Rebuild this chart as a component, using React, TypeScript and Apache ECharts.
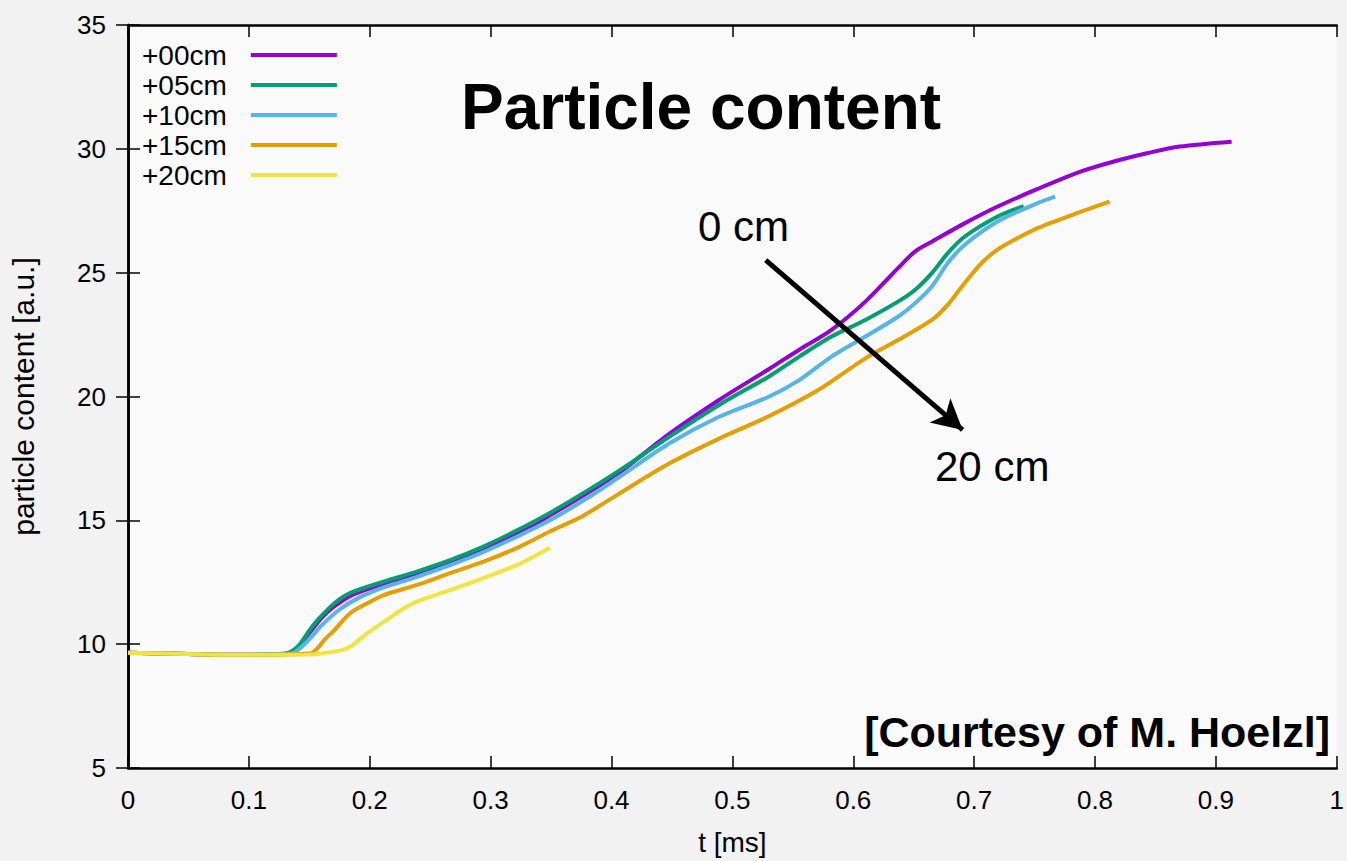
import React, { useEffect, useRef } from "react";
import * as echarts from "echarts";

const seriesNames = ["+00cm", "+05cm", "+10cm", "+15cm", "+20cm"];
const seriesColors = ["#9400D3", "#009E73", "#56B4E9", "#E69F00", "#F0E442"];

const p00: [number, number][] = [
  [0, 9.65], [0.05, 9.6], [0.1, 9.57], [0.13, 9.6], [0.14, 9.85], [0.15, 10.45], [0.16, 11.05],
  [0.17, 11.5], [0.184, 11.95], [0.2, 12.25], [0.212, 12.45], [0.239, 12.85], [0.267, 13.32],
  [0.294, 13.85], [0.322, 14.45], [0.349, 15.2], [0.38, 16.1], [0.407, 16.95], [0.448, 18.5],
  [0.489, 19.86], [0.53, 21.1], [0.555, 21.88], [0.582, 22.69], [0.61, 23.83], [0.637, 25.18],
  [0.651, 25.85], [0.665, 26.25], [0.692, 26.99], [0.719, 27.66], [0.752, 28.37], [0.788, 29.08],
  [0.815, 29.48], [0.843, 29.82], [0.87, 30.09], [0.913, 30.29],
];
const p05: [number, number][] = [
  [0, 9.65], [0.05, 9.6], [0.1, 9.57], [0.13, 9.62], [0.138, 9.8], [0.143, 10.05], [0.15, 10.55],
  [0.157, 10.98], [0.171, 11.66], [0.184, 12.07], [0.212, 12.53], [0.239, 12.93], [0.267, 13.4],
  [0.294, 13.94], [0.322, 14.6], [0.349, 15.3], [0.38, 16.2], [0.407, 17.03], [0.448, 18.38],
  [0.489, 19.66], [0.53, 20.8], [0.555, 21.6], [0.582, 22.42], [0.61, 23.09], [0.637, 23.83],
  [0.651, 24.3], [0.665, 24.98], [0.678, 25.78], [0.692, 26.45], [0.719, 27.26], [0.741, 27.69],
];
const p10: [number, number][] = [
  [0, 9.65], [0.05, 9.6], [0.1, 9.57], [0.135, 9.62], [0.145, 9.95], [0.16, 10.75], [0.175, 11.4],
  [0.19, 11.85], [0.212, 12.3], [0.239, 12.72], [0.267, 13.2], [0.294, 13.72], [0.322, 14.35],
  [0.349, 15.0], [0.38, 15.9], [0.407, 16.77], [0.448, 18.11], [0.489, 19.18], [0.53, 19.99],
  [0.555, 20.65], [0.582, 21.61], [0.61, 22.42], [0.637, 23.22], [0.651, 23.76], [0.665, 24.44],
  [0.678, 25.38], [0.692, 26.12], [0.719, 27.06], [0.752, 27.8], [0.767, 28.07],
];
const p15: [number, number][] = [
  [0, 9.65], [0.05, 9.6], [0.1, 9.57], [0.15, 9.62], [0.156, 9.8], [0.163, 10.2], [0.171, 10.58],
  [0.184, 11.26], [0.2, 11.7], [0.212, 11.99], [0.239, 12.39], [0.267, 12.88], [0.294, 13.33],
  [0.322, 13.89], [0.349, 14.55], [0.377, 15.2], [0.407, 16.1], [0.448, 17.3], [0.489, 18.3],
  [0.53, 19.2], [0.571, 20.26], [0.61, 21.54], [0.637, 22.28], [0.665, 23.09], [0.678, 23.7],
  [0.692, 24.57], [0.706, 25.38], [0.719, 25.92], [0.733, 26.32], [0.752, 26.79], [0.788, 27.45],
  [0.812, 27.87],
];
const p20: [number, number][] = [
  [0, 9.65], [0.05, 9.6], [0.1, 9.57], [0.15, 9.58], [0.176, 9.75], [0.184, 9.9], [0.198, 10.45],
  [0.212, 10.91], [0.226, 11.38], [0.239, 11.72], [0.267, 12.19], [0.294, 12.67], [0.322, 13.2],
  [0.349, 13.89],
];
const seriesData = [p00, p05, p10, p15, p20];

const arrowStart: [number, number] = [0.5276, 25.51];
const arrowEnd: [number, number] = [0.6905, 18.65];

const FONT = "'Liberation Sans', Arial, Helvetica, sans-serif";

export default function App() {
  const ref = useRef<HTMLDivElement>(null);
  useEffect(() => {
    if (!ref.current) return;
    const chart = echarts.init(ref.current, null, { renderer: "svg" });
    const axisLine = { show: true, lineStyle: { color: "#000", width: 2.5 } };
    const tick = { show: true, inside: true, length: 12, lineStyle: { color: "#000", width: 1.5 } };
    chart.setOption({
      animation: false,
      backgroundColor: "#f2f2f2",
      textStyle: { fontFamily: FONT },
      title: {
        text: "Particle content",
        left: 696,
        top: 70,
        textAlign: "center",
        textStyle: { fontSize: 64, fontWeight: "bold", color: "#000", fontFamily: FONT },
      },
      legend: {
        orient: "vertical",
        left: 137,
        top: 36,
        align: "right",
        icon: "rect",
        itemWidth: 86,
        itemHeight: 4,
        itemGap: 2,
        data: seriesNames,
        textStyle: { fontSize: 28, lineHeight: 25, color: "#000", fontFamily: FONT, padding: [0, 19, 0, 0] },
      },
      grid: {
        left: 126, right: 6, top: 25, bottom: 93,
        show: true, backgroundColor: "#fafafa", borderWidth: 0,
      },
      xAxis: [
        {
          type: "value", min: 0, max: 1, interval: 0.1,
          name: "t [ms]", nameLocation: "middle", nameGap: 60,
          nameTextStyle: { fontSize: 28, color: "#000", fontFamily: FONT },
          axisLine, axisTick: tick, splitLine: { show: false },
          axisLabel: {
            fontSize: 26, color: "#000", margin: 19, fontFamily: FONT,
            formatter: (v: number) => String(+v.toFixed(1)),
          },
        },
        {
          type: "value", min: 0, max: 1, interval: 0.1, position: "top",
          axisLine, axisTick: tick, splitLine: { show: false }, axisLabel: { show: false },
        },
      ],
      yAxis: [
        {
          type: "value", min: 5, max: 35, interval: 5,
          name: "particle content [a.u.]", nameLocation: "middle", nameGap: 90,
          nameTextStyle: { fontSize: 30, color: "#000", fontFamily: FONT },
          axisLine, axisTick: tick, splitLine: { show: false },
          axisLabel: { fontSize: 26, color: "#000", margin: 22, fontFamily: FONT },
        },
        {
          type: "value", min: 5, max: 35, interval: 5, position: "right",
          axisLine, axisTick: tick, splitLine: { show: false }, axisLabel: { show: false },
        },
      ],
      series: seriesNames.map((name, i) => ({
        name,
        type: "line",
        data: seriesData[i],
        showSymbol: false,
        smooth: 0.3,
        lineStyle: { width: 4, color: seriesColors[i] },
        itemStyle: { color: seriesColors[i] },
        z: 2 + i,
        ...(i === 0
          ? {
              markLine: {
                silent: true,
                symbol: ["none", "arrow"],
                symbolSize: [24, 30],
                label: { show: false },
                lineStyle: { color: "#000", width: 5, type: "solid" },
                data: [[{ coord: arrowStart }, { coord: arrowEnd }]],
                z: 10,
              },
            }
          : {}),
      })),
      graphic: [
        {
          type: "text", left: 698, top: 205, z: 20,
          style: { text: "0 cm", fontSize: 42, fill: "#000", fontFamily: FONT },
        },
        {
          type: "text", left: 935, top: 445, z: 20,
          style: { text: "20 cm", fontSize: 42, fill: "#000", fontFamily: FONT },
        },
        {
          type: "text", right: 17, top: 710, z: 20,
          style: { text: "[Courtesy of M. Hoelzl]", fontSize: 43, fontWeight: "bold", fill: "#000", fontFamily: FONT },
        },
      ],
    });
    return () => chart.dispose();
  }, []);
  return (
    <div
      ref={ref}
      style={{ position: "absolute", left: 0, top: 0, width: 1347, height: 861 }}
    />
  );
}
